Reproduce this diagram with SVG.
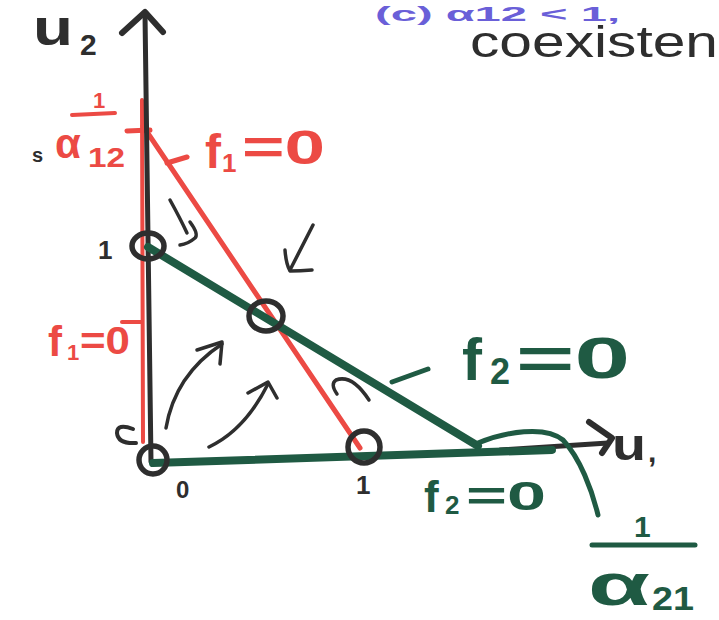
<svg xmlns="http://www.w3.org/2000/svg" width="719" height="620" viewBox="0 0 719 620">
<style>
.k{stroke:#2e2e2e;fill:none;stroke-linecap:round;stroke-linejoin:round}
.r{stroke:#ec4a44;fill:none;stroke-linecap:round}
.g{stroke:#1f5a43;fill:none;stroke-linecap:round;stroke-linejoin:round}
.tk{fill:#2e2e2e;font-family:"Liberation Sans",sans-serif}
.tr{fill:#ec4a44;font-family:"Liberation Sans",sans-serif;font-weight:bold}
.tg{fill:#1f5a43;font-family:"Liberation Sans",sans-serif;font-weight:bold}
.eq{fill:none;stroke:#2e2e2e;stroke-width:5.5}
</style>
<rect width="719" height="620" fill="#fff"/>
<g id="title">
<text x="375" y="21" font-family="Liberation Sans,sans-serif" font-size="21" fill="#6a5fd8" font-weight="bold" textLength="245" lengthAdjust="spacingAndGlyphs">(c) α12 &lt; 1,</text>
<text x="470" y="57" class="tk" font-size="44" textLength="248" lengthAdjust="spacingAndGlyphs">coexisten</text>
<text x="32" y="162" class="tk" font-size="20" font-weight="bold">s</text>
</g>
<g id="nullclines">
<line class="r" x1="142" y1="100" x2="143" y2="442" stroke-width="4"/>
<line class="r" x1="143" y1="126" x2="360" y2="448" stroke-width="5"/>
<line class="r" x1="127" y1="131" x2="150" y2="130" stroke-width="5"/>
<line class="r" x1="167" y1="163" x2="187" y2="157" stroke-width="5"/>
<line class="r" x1="122" y1="322" x2="142" y2="322" stroke-width="4"/>
<line class="k" x1="145" y1="14" x2="151" y2="462" stroke-width="5"/>
<path class="k" d="M122 33 L145 12 L163 32" stroke-width="6"/>
<line class="k" x1="500" y1="450" x2="608" y2="443" stroke-width="5"/>
<path class="k" d="M589 422 L612 438 L602 453" stroke-width="6"/>
<line class="g" x1="148" y1="247" x2="478" y2="446" stroke-width="8"/>
<line class="g" x1="153" y1="463" x2="552" y2="450" stroke-width="8"/>
<line class="g" x1="392" y1="382" x2="428" y2="369" stroke-width="5"/>
<path class="g" d="M478 443 C505 432 545 425 563 440 C580 458 592 490 598 515" stroke-width="5"/>
</g>
<g id="equilibria">
<ellipse class="eq" cx="148" cy="246" rx="16" ry="13"/>
<ellipse class="eq" cx="266" cy="316" rx="17" ry="15"/>
<circle class="eq" cx="153" cy="460" r="14"/>
<circle class="eq" cx="364" cy="447" r="16"/>
</g>
<g id="flow-arrows">
<path class="k" d="M170 200 Q180 218 187 233" stroke-width="3.5"/>
<path class="k" d="M190 222 Q199 234 195 238 Q188 244 180 245" stroke-width="3.5"/>
<path class="k" d="M313 225 L290 270" stroke-width="3.5"/>
<path class="k" d="M285 250 Q286 264 290 271 Q300 271 312 270" stroke-width="3.5"/>
<path class="k" d="M166 428 Q175 375 222 344" stroke-width="3.5"/>
<path class="k" d="M197 350 L222 342 L220 364" stroke-width="3.5"/>
<path class="k" d="M209 447 Q245 430 268 384" stroke-width="3.5"/>
<path class="k" d="M248 393 L268 382 L277 398" stroke-width="3.5"/>
<path class="k" d="M337 394 Q330 384 336 380 Q352 374 369 400" stroke-width="3.5"/>
<path class="k" d="M133 429 Q117 423 117 433 Q118 444 136 443" stroke-width="4"/>
</g>
<g id="labels">
<text x="33" y="45" class="tk" font-size="50" font-weight="bold" textLength="40" lengthAdjust="spacingAndGlyphs">u</text>
<text x="80" y="55" class="tk" font-size="30" font-weight="bold">2</text>
<text x="93" y="108" class="tr" font-size="22">1</text>
<line class="r" x1="72" y1="115" x2="115" y2="113" stroke-width="4"/>
<text x="55" y="158" class="tr" font-size="42">α</text>
<text x="88" y="167" class="tr" font-size="28" textLength="37" lengthAdjust="spacingAndGlyphs">12</text>
<text x="205" y="168" class="tr" font-size="48">f</text>
<text x="222" y="172" class="tr" font-size="26">1</text>
<text x="242" y="164" class="tr" font-size="48" textLength="83" lengthAdjust="spacingAndGlyphs">=0</text>
<text x="48" y="356" class="tr" font-size="42">f</text>
<text x="67" y="360" class="tr" font-size="22">1</text>
<text x="80" y="354" class="tr" font-size="38" textLength="50" lengthAdjust="spacingAndGlyphs">=0</text>
<text x="98" y="259" class="tk" font-size="26" font-weight="bold">1</text>
<text x="176" y="498" class="tk" font-size="24" font-weight="bold">0</text>
<text x="356" y="494" class="tk" font-size="26" font-weight="bold">1</text>
<text x="612" y="460" class="tk" font-size="44" font-weight="bold" textLength="34" lengthAdjust="spacingAndGlyphs">u</text>
<text x="648" y="462" class="tk" font-size="30" font-weight="bold">,</text>
<text x="462" y="380" class="tg" font-size="60">f</text>
<text x="490" y="384" class="tg" font-size="36">2</text>
<text x="516" y="378" class="tg" font-size="58" textLength="114" lengthAdjust="spacingAndGlyphs">=0</text>
<text x="424" y="512" class="tg" font-size="44">f</text>
<text x="445" y="514" class="tg" font-size="26">2</text>
<text x="466" y="510" class="tg" font-size="40" textLength="80" lengthAdjust="spacingAndGlyphs">=0</text>
<text x="634" y="537" class="tg" font-size="30">1</text>
<line class="g" x1="592" y1="545" x2="695" y2="545" stroke-width="5"/>
<text x="588" y="605" class="tg" font-size="60" textLength="62" lengthAdjust="spacingAndGlyphs">α</text>
<text x="652" y="610" class="tg" font-size="34" textLength="42" lengthAdjust="spacingAndGlyphs">21</text>
</g>
</svg>
